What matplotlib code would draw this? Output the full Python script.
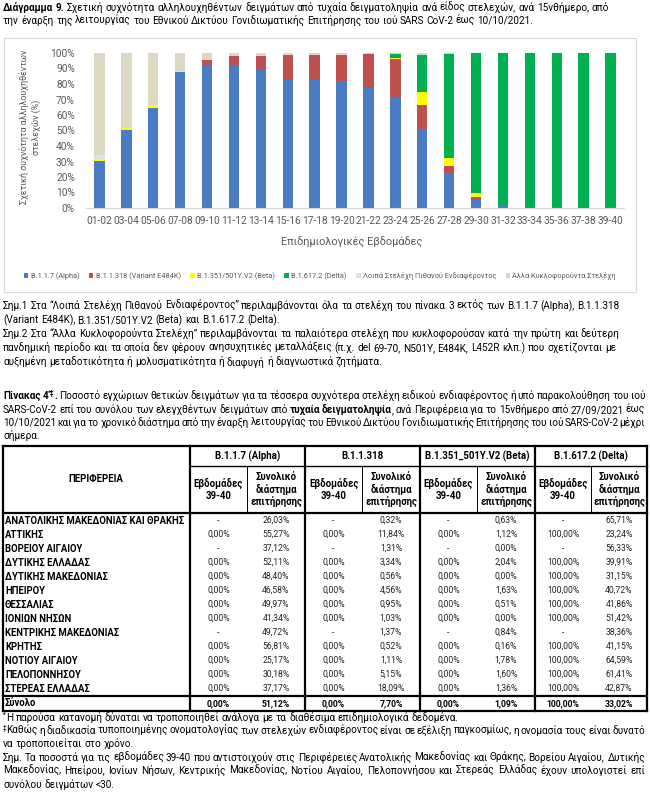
import unicodedata

import matplotlib
matplotlib.use("Agg")
import matplotlib.pyplot as plt
from matplotlib.lines import Line2D
from matplotlib.patches import Patch, Rectangle
import numpy as np

W, H = 650, 797
plt.rcParams["font.family"] = ["Roboto", "DejaVu Sans"]

# ---- chart data (% per 15-day period) ----
weeks = ["01-02", "03-04", "05-06", "07-08", "09-10", "11-12", "13-14", "15-16", "17-18", "19-20",
         "21-22", "23-24", "25-26", "27-28", "29-30", "31-32", "33-34", "35-36", "37-38", "39-40"]
alpha = [30.5, 50.5, 64.7, 87.5, 91.8, 91.4, 89.7, 82.4, 83.2, 81.7, 78.1, 71.2, 51.2, 22.6, 6.0, 1.5, 0, 0, 0, 0]
b1318 = [0, 0, 0, 0, 3.4, 6.5, 8.6, 16.6, 15.5, 17.2, 21.0, 25.2, 15.0, 4.3, 1.0, 0.3, 0, 0, 0, 0]
beta = [0.5, 0.8, 1.5, 1.0, 0, 0, 0, 0, 0, 0, 0, 0.5, 8.6, 5.4, 2.6, 0, 0, 0, 0, 0]
delta = [0, 0, 0, 0, 0, 0, 0, 0, 0, 0, 0, 2.5, 24.0, 67.3, 90.4, 98.2, 100, 100, 100, 100]
voi_other = [3.0, 0, 0, 0, 0, 0, 0, 0, 0, 0, 0, 0, 0, 0, 0, 0, 0, 0, 0, 0]
older = [66.0, 48.7, 33.8, 11.5, 4.8, 2.1, 1.7, 1.0, 1.3, 1.1, 0.9, 0.6, 1.2, 0.4, 0, 0, 0, 0, 0, 0]

series_labels = ["B.1.1.7 (Alpha)", "B.1.1.318 (Variant E484K)", "B.1.351/501Y.V2 (Beta)",
                 "B.1.617.2 (Delta)", "Λοιπά Στελέχη Πιθανού Ενδιαφέροντος", "Άλλα Κυκλοφορούντα Στελέχη"]
series_colors = ["#4A7CC4", "#C0504D", "#FFFF00", "#00B050", "#DCE2F1", "#DDD8C2"]

# ---- table data ----
regions = ["ΑΝΑΤΟΛΙΚΗΣ ΜΑΚΕΔΟΝΙΑΣ ΚΑΙ ΘΡΑΚΗΣ", "ΑΤΤΙΚΗΣ", "ΒΟΡΕΙΟΥ ΑΙΓΑΙΟΥ", "ΔΥΤΙΚΗΣ ΕΛΛΑΔΑΣ",
           "ΔΥΤΙΚΗΣ ΜΑΚΕΔΟΝΙΑΣ", "ΗΠΕΙΡΟΥ", "ΘΕΣΣΑΛΙΑΣ", "ΙΟΝΙΩΝ ΝΗΣΩΝ", "ΚΕΝΤΡΙΚΗΣ ΜΑΚΕΔΟΝΙΑΣ",
           "ΚΡΗΤΗΣ", "ΝΟΤΙΟΥ ΑΙΓΑΙΟΥ", "ΠΕΛΟΠΟΝΝΗΣΟΥ", "ΣΤΕΡΕΑΣ ΕΛΛΑΔΑΣ", "Σύνολο"]
alpha_wk = [None, 0, None, 0, 0, 0, 0, 0, None, 0, 0, 0, 0, 0]
alpha_all = [26.03, 55.27, 37.12, 52.11, 48.40, 46.58, 49.97, 41.34, 49.72, 56.81, 25.17, 30.18, 37.17, 51.12]
b318_wk = [None, 0, None, 0, 0, 0, 0, 0, None, 0, 0, 0, 0, 0]
b318_all = [0.32, 11.84, 1.31, 3.34, 0.56, 4.56, 0.95, 1.03, 1.37, 0.52, 1.11, 5.15, 18.09, 7.70]
beta_wk = [None, 0, None, 0, 0, 0, 0, 0, None, 0, 0, 0, 0, 0]
beta_all = [0.63, 1.12, 0.00, 2.04, 0.00, 1.63, 0.51, 0.00, 0.84, 0.16, 1.78, 1.60, 1.36, 1.09]
delta_wk = [None, 100, None, 100, 100, 100, 100, 100, None, 100, 100, 100, 100, 100]
delta_all = [65.71, 23.24, 56.33, 39.91, 31.15, 40.72, 41.86, 51.42, 38.36, 41.15, 64.59, 61.41, 42.87, 33.02]
group_names = ["B.1.1.7 (Alpha)", "B.1.1.318", "B.1.351_501Y.V2 (Beta)", "B.1.617.2 (Delta)"]

fig = plt.figure(figsize=(6.5, 7.97), dpi=100)
renderer = fig.canvas.get_renderer()


def fx(x):
    return x / W


def fy(y):
    return 1 - y / H


def nfc(s):
    return unicodedata.normalize("NFC", s)


def put(x, y, s, **kw):
    return fig.text(fx(x), fy(y), nfc(s), **kw)


def text_w(s, size, weight="normal"):
    t = fig.text(0, 0, nfc(s), fontsize=size, fontweight=weight)
    w = t.get_window_extent(renderer).width
    t.remove()
    return w


def adv_w(s, size, weight="normal"):
    # advance width: pad with bars so side bearings are counted
    return text_w("|" + s + "|", size, weight) - text_w("||", size, weight)


def hline(x0, x1, y, lw=1.0, color="black"):
    fig.add_artist(Line2D([fx(x0), fx(x1)], [fy(y), fy(y)], transform=fig.transFigure, color=color, lw=lw))


def vline(x, y0, y1, lw=1.0, color="black"):
    fig.add_artist(Line2D([fx(x), fx(x)], [fy(y0), fy(y1)], transform=fig.transFigure, color=color, lw=lw))


STYLE = {"n": ("normal", 1.0, 0.0), "b": ("bold", 1.0, 0.0), "s": ("normal", 0.65, 0.4), "bs": ("bold", 0.65, 0.4)}


def draw_line(x, y, runs, size, right=None):
    # split runs into words; pieces inside a word are drawn back to back
    words = [[]]
    for txt, st in runs:
        parts = nfc(txt).split(" ")
        for i, p in enumerate(parts):
            if i > 0:
                words.append([])
            if p:
                words[-1].append((p, st))
    words = [w for w in words if w]
    measured = []
    for w in words:
        pieces, total = [], 0
        for txt, st in w:
            weight, scale, rise = STYLE[st]
            pw = adv_w(txt, size * scale, weight)
            pieces.append((txt, weight, size * scale, rise, pw))
            total += pw
        measured.append((pieces, total))
    gap = adv_w(" ", size)
    if right is not None and len(measured) > 1:
        gap = (right - x - sum(m[1] for m in measured)) / (len(measured) - 1)
    cx = x
    for pieces, total in measured:
        px = cx
        for txt, weight, sz, rise, pw in pieces:
            put(px, y - rise * size * 100 / 72, txt, fontsize=sz, fontweight=weight,
                va="baseline", ha="left", color="black")
            px += pw
        cx += total + gap


# body font size fitted on a full-width line
ref_line = ("Σημ.2 Στα “Άλλα Κυκλοφορούντα Στελέχη” περιλαμβάνονται τα παλαιότερα στελέχη που "
            "κυκλοφορούσαν κατά την πρώτη και δεύτερη")
S = 7.0 * 620 / text_w(ref_line, 7.0)

# ---- title ----
draw_line(3, 11, [("Διάγραμμα 9.", "b"), (" Σχετική συχνότητα αλληλουχηθέντων δειγμάτων από τυχαία "
          "δειγματοληψία ανά είδος στελεχών, ανά 15νθήμερο, από", "n")], S)
draw_line(3, 24, [("την έναρξη της λειτουργίας του Εθνικού Δικτύου Γονιδιωματικής Επιτήρησης του ιού "
          "SARS CoV-2 έως 10/10/2021.", "n")], S)

# ---- chart ----
fig.add_artist(Rectangle((fx(4), fy(292)), fx(632), 254 / H, transform=fig.transFigure,
                         fill=False, edgecolor="#D9D9D9", lw=0.8))
ax = fig.add_axes([fx(86), fy(208), (624 - 86) / W, (208 - 53) / H])
xpos = np.arange(len(weeks))
bottom = np.zeros(len(weeks))
for vals, col, lab in zip([alpha, b1318, beta, delta, voi_other, older], series_colors, series_labels):
    ax.bar(xpos, vals, 0.39, bottom=bottom, color=col, label=nfc(lab))
    bottom += np.array(vals)
ax.set_xlim(-0.5, len(weeks) - 0.5)
ax.set_ylim(0, 100)
ax.set_yticks(range(0, 101, 10))
ax.set_yticklabels([f"{v}%" for v in range(0, 101, 10)])
ax.set_xticks(xpos)
ax.set_xticklabels(weeks)
for s in ["top", "right", "left"]:
    ax.spines[s].set_visible(False)
ax.spines["bottom"].set_color("#D9D9D9")
ax.tick_params(axis="both", length=0, colors="#595959", labelsize=7.3)
ax.tick_params(axis="y", pad=8)
ax.tick_params(axis="x", pad=6)

put(352, 242, "Επιδημιολογικές Εβδομάδες", fontsize=7.8, color="#595959", ha="center", va="center")
put(30, 127, "Σχετική συχνότητα αλληλουχηθέντων\nστελεχών (%)", fontsize=6.4, color="#595959",
    ha="center", va="center", rotation=90, multialignment="center", linespacing=1.35)

handles = [Patch(facecolor=c) for c in series_colors]
fig.legend(handles, [nfc(l) for l in series_labels], loc="center", bbox_to_anchor=(fx(320), fy(276)), ncol=6,
           frameon=False, fontsize=5.3, handlelength=0.6, handleheight=0.6, columnspacing=1.3,
           handletextpad=0.3, labelcolor="#595959")

# ---- notes under chart ----
notes = [
    "Σημ.1 Στα “Λοιπά Στελέχη Πιθανού Ενδιαφέροντος” περιλαμβάνονται όλα τα στελέχη του πίνακα 3 εκτός των Β.1.1.7 (Alpha), B.1.1.318",
    "(Variant E484K), B.1.351/501Y.V2 (Beta) και B.1.617.2 (Delta).",
    ref_line,
    "πανδημική περίοδο και τα οποία δεν φέρουν ανησυχητικές μεταλλάξεις (π.χ. del 69-70, N501Y, E484K, L452R κλπ.) που σχετίζονται με",
    "αυξημένη μεταδοτικότητα ή μολυσματικότητα ή διαφυγή ή διαγνωστικά ζητήματα.",
]
for i, s in enumerate(notes):
    draw_line(3, 309 + 14 * i, [(s, "n")], S)

# ---- table caption ----
draw_line(3, 399, [("Πίνακας 4", "b"), ("*‡", "bs"), (".", "b"), (" Ποσοστό εγχώριων θετικών δειγμάτων για τα "
          "τέσσερα συχνότερα στελέχη ειδικού ενδιαφέροντος ή υπό παρακολούθηση του ιού", "n")], S, right=645)
draw_line(3, 413, [("SARS-CoV-2 επί του συνόλου των ελεγχθέντων δειγμάτων από ", "n"), ("τυχαία δειγματοληψία", "b"),
          (", ανά Περιφέρεια για το 15νθήμερο από 27/09/2021 έως", "n")], S, right=645)
draw_line(3, 426, [("10/10/2021 και για το χρονικό διάστημα από την έναρξη λειτουργίας του Εθνικού Δικτύου "
          "Γονιδιωματικής Επιτήρησης του ιού SARS-CoV-2 μέχρι", "n")], S, right=645)
draw_line(3, 439, [("σήμερα.", "n")], S)

# ---- table ----
T0, H1, HB, TOT, TB = 446, 466, 513, 696, 711
X0, X1 = 3, 647
gx = [190, 305, 420, 535, 647]
subx = [247, 362, 477, 591]
hline(X0, X1, T0, 1.6)
hline(X0, X1, TB, 1.6)
vline(X0, T0, TB, 1.6)
vline(X1, T0, TB, 1.6)
hline(gx[0], X1, H1, 1.0)
hline(X0, X1, HB, 1.6)
hline(X0, X1, TOT, 1.6)
for x in gx[:4]:
    vline(x, T0, TB, 1.6)
for x in subx:
    vline(x, H1, HB, 0.7)

hs = 6.9
put(96, (T0 + HB) / 2, "ΠΕΡΙΦΕΡΕΙΑ", fontsize=hs, fontweight="bold", ha="center", va="center")
for g, name in enumerate(group_names):
    put((gx[g] + gx[g + 1]) / 2, (T0 + H1) / 2, name, fontsize=hs, fontweight="bold", ha="center", va="center")
    put((gx[g] + subx[g]) / 2, (H1 + HB) / 2, "Εβδομάδες\n39-40", fontsize=hs, fontweight="bold",
        ha="center", va="center", linespacing=1.25)
    put((subx[g] + gx[g + 1]) / 2, (H1 + HB) / 2, "Συνολικό\nδιάστημα\nεπιτήρησης", fontsize=hs,
        fontweight="bold", ha="center", va="center", linespacing=1.15)

rs = 180 / text_w(regions[0], 7.0, "bold") * 7.0
cols = [alpha_wk, alpha_all, b318_wk, b318_all, beta_wk, beta_all, delta_wk, delta_all]
col_centers = []
for g in range(4):
    col_centers += [(gx[g] + subx[g]) / 2, (subx[g] + gx[g + 1]) / 2]


def pct(v):
    return "-" if v is None else f"{v:.2f}%".replace(".", ",")


for i, reg in enumerate(regions):
    if i < len(regions) - 1:
        yc = HB + 7.5 + 14 * i
        wt = "normal"
    else:
        yc = (TOT + TB) / 2
        wt = "bold"
    put(5, yc, reg, fontsize=rs, fontweight="bold", ha="left", va="center")
    for c, xc in zip(cols, col_centers):
        put(xc, yc, pct(c[i]), fontsize=6.2, fontweight=wt, ha="center", va="center",
            color="black" if wt == "bold" else "#222222")

# ---- footnotes ----
draw_line(3, 721, [("*", "s"), ("Η παρούσα κατανομή δύναται να τροποποιηθεί ανάλογα με τα διαθέσιμα "
          "επιδημιολογικά δεδομένα.", "n")], S)
draw_line(3, 734, [("‡", "s"), ("Καθώς η διαδικασία τυποποιημένης ονοματολογίας των στελεχών ενδιαφέροντος "
          "είναι σε εξέλιξη παγκοσμίως, η ονομασία τους είναι δυνατό", "n")], S, right=645)
draw_line(3, 747, [("να τροποποιείται στο χρόνο.", "n")], S)
draw_line(3, 761, [("Σημ. Τα ποσοστά για τις εβδομάδες 39-40 που αντιστοιχούν στις Περιφέρειες Ανατολικής "
          "Μακεδονίας και Θράκης, Βορείου Αιγαίου, Δυτικής", "n")], S, right=645)
draw_line(3, 774, [("Μακεδονίας, Ηπείρου, Ιονίων Νήσων, Κεντρικής Μακεδονίας, Νοτίου Αιγαίου, Πελοποννήσου "
          "και Στερεάς Ελλάδας έχουν υπολογιστεί επί", "n")], S, right=645)
draw_line(3, 788, [("συνόλου δειγμάτων <30.", "n")], S)

fig.savefig("out.png", dpi=100, facecolor="white")
